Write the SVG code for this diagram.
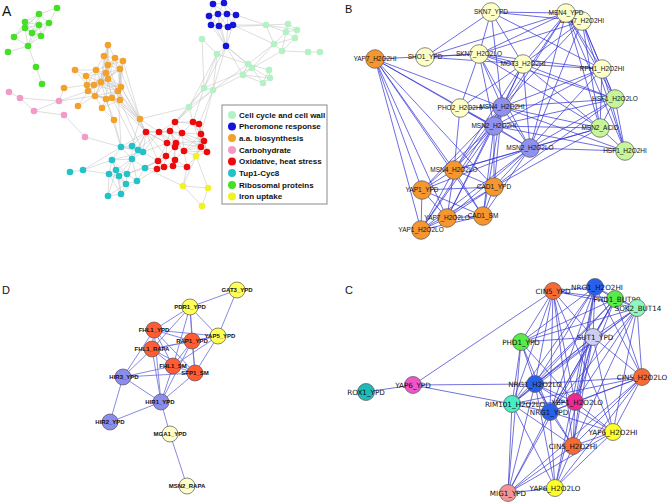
<svg xmlns="http://www.w3.org/2000/svg" width="669" height="503" viewBox="0 0 669 503">
<style>
.bg{fill:#fff}
.pl{font-family:"Liberation Sans",Arial,sans-serif;fill:#111}
.ea{stroke:#bdbdbd;stroke-width:0.5;fill:none}
.eb{stroke:#3434d6;stroke-width:0.8;fill:none;stroke-opacity:0.9}
.ec{stroke:#3a3ad0;stroke-width:0.8;fill:none;stroke-opacity:0.9}
.ed{stroke:#6a6ae0;stroke-width:0.8;fill:none}
.na circle{stroke:none}
.cg{fill:#b2f2c4}.cb{fill:#1414dc}.co{fill:#f2a12a}.cp{fill:#f39ac8}.cr{fill:#ee0a0a}.ct{fill:#22c2c8}.cgr{fill:#44e024}.cy{fill:#f2f222}
.lg{font-family:"Liberation Sans",Arial,sans-serif;font-weight:bold;font-size:8px;fill:#111}
.nb circle,.nc circle,.nd circle{stroke:#555;stroke-width:0.7}
.nb text{font-family:"Liberation Sans",Arial,sans-serif;font-size:6.5px;fill:#111;text-anchor:middle}
.nc text{font-family:"DejaVu Sans",sans-serif;font-size:7.2px;fill:#111;text-anchor:middle}
.nd text{font-family:"Liberation Sans",Arial,sans-serif;font-weight:bold;font-size:6px;fill:#111;text-anchor:middle}
.bo{fill:#f5962e}.bp{fill:#ffffc8}.bl{fill:#9090ee}.bg2{fill:#c6f59a}
.dy{fill:#ffff55}.dr{fill:#ff5c33}.dl{fill:#8c8cee}.dp{fill:#ffffcc}
.c5{fill:#f86a34}.cn{fill:#2860ee}.cph{fill:#58ec48}.cso{fill:#8cf8c0}.csu{fill:#cccef8}.cri{fill:#48eec4}.cx{fill:#ee2a8e}.cy6{fill:#ffff2a}.cmi{fill:#f59494}.cy6p{fill:#ee55c8}.crx{fill:#20baba}
</style>
<rect class="bg" x="0" y="0" width="669" height="503"/>
<text class="pl" x="2" y="16" font-size="14">A</text>
<text class="pl" x="345" y="13" font-size="11">B</text>
<text class="pl" x="2" y="294" font-size="11">D</text>
<text class="pl" x="345" y="294" font-size="11">C</text>

<g id="connectors">
<path class="ea" d="M57 8L39 14M57 8L49 23M39 14L25 22M39 14L39 25M39 14L49 23M39 14L25 28M39 14L32 33M25 22L39 25M25 22L25 28M25 22L32 33M25 22L41 36M39 25L49 23M39 25L25 28M39 25L32 33M39 25L41 36M39 25L28 46M49 23L41 36M49 23L32 33M25 28L32 33M25 28L14 37M25 28L28 46M25 28L41 36M32 33L41 36M32 33L28 46M41 36L28 46M14 37L28 46M14 37L25 22M14 37L39 14M28 46L8 52M28 46L36 67M36 67L42 84M49 23L28 46"/>
<path class="ea" d="M108 45L104 56M108 45L115 58M108 45L108 65M108 45L106 73M108 45L101 82M108 45L108 79M104 56L115 58M104 56L108 65M104 56L96 70M104 56L106 73M104 56L120 69M104 56L101 82M115 58L123 61M115 58L108 65M115 58L120 69M115 58L106 73M115 58L121 87M115 58L108 79M123 61L120 69M123 61L108 65M123 61L121 87M123 61L118 91M123 61L108 79M108 65L120 69M108 65L96 70M108 65L106 73M108 65L108 79M108 65L101 82M108 65L118 91M108 65L94 85M120 69L106 73M120 69L108 79M120 69L121 87M120 69L118 91M120 69L101 82M120 69L120 100M96 70L86 76M96 70L106 73M96 70L87 85M96 70L94 85M96 70L101 82M96 70L108 79M75 70L86 76M75 70L87 85M75 70L96 70M86 76L87 85M86 76L94 85M86 76L101 82M86 76L106 73M86 76L88 91M106 73L108 79M106 73L101 82M106 73L94 85M106 73L121 87M106 73L118 91M106 73L95 96M106 73L112 98M108 79L101 82M108 79L121 87M108 79L118 91M108 79L95 96M108 79L106 99M108 79L112 98M108 79L120 100M108 79L87 85M108 79L88 91M87 85L94 85M87 85L88 91M87 85L101 82M87 85L64 88M87 85L95 96M94 85L101 82M94 85L88 91M94 85L95 96M94 85L121 87M94 85L118 91M101 82L121 87M101 82L118 91M101 82L95 96M101 82L106 99M101 82L112 98M101 82L88 91M121 87L118 91M121 87L112 98M121 87L120 100M121 87L106 99M88 91L95 96M88 91L78 106M88 91L106 99M118 91L95 96M118 91L106 99M118 91L112 98M118 91L120 100M95 96L106 99M95 96L112 98M95 96L102 108M95 96L120 100M106 99L112 98M106 99L102 108M106 99L120 100M112 98L120 100M112 98L102 108M120 100L102 108M78 106L95 96M102 108L114 120M106 99L114 120M120 100L140 119M118 91L140 119M112 98L140 119M121 87L140 119M121 87L146 132M118 91L146 132M120 100L146 132M112 98L146 132M140 119L146 132M140 119L132 146M140 119L159 132M118 91L121 147M106 99L121 147M114 120L121 147M120 100L143 152M112 98L138 150M120 69L140 119M123 61L140 119M59 101L64 88M59 101L88 91M59 101L95 96"/>
<path class="ea" d="M9 92L20 98M20 98L59 101M20 98L34 111M34 111L59 101M34 111L64 115M64 115L85 137M85 137L121 147"/>
<path class="ea" d="M202 39L217 54M202 39L204 88M217 54L226 46M217 54L204 88M217 54L213 90M217 54L248 64M217 54L189 107M266 25L288 24M266 25L286 32M266 25L274 44M266 25L297 30M288 24L286 32M288 24L297 30M286 32L297 30M286 32L295 38M297 30L295 38M274 44L282 51M274 44L286 32M274 44L295 38M282 51L295 38M282 51L286 32M282 51L308 52M308 52L320 52M274 44L248 64M282 51L252 68M274 44L252 68M248 64L252 68M248 64L269 70M248 64L243 75M252 68L270 78M252 68L263 83M269 70L270 78M243 75L270 78M243 75L263 83M270 78L263 83M269 70L263 83M252 68L243 75M243 75L213 90M248 64L213 90M252 68L204 88M204 88L213 90M204 88L189 107M213 90L189 107M236 15L266 25M233 25L266 25M228 27L266 25M233 25L274 44M226 46L248 64M226 46L252 68M226 46L243 75M226 46L213 90M226 46L204 88"/>
<path class="ea" d="M213 4L224 3M213 4L209 16M213 4L218 14M213 4L227 14M224 3L218 14M224 3L227 14M224 3L236 15M209 16L218 14M209 16L211 25M209 16L219 26M209 16L227 14M218 14L227 14M218 14L211 25M218 14L219 26M218 14L228 27M218 14L236 15M227 14L236 15M227 14L219 26M227 14L228 27M227 14L233 25M236 15L233 25M236 15L228 27M211 25L219 26M211 25L228 27M219 26L228 27M219 26L233 25M228 27L233 25M211 25L226 46M219 26L226 46M228 27L226 46M233 25L226 46M209 16L226 46M218 14L226 46"/>
<path class="ea" d="M189 107L175 122M189 107L193 122M213 90L199 124M213 90L175 122M213 90L201 134M204 88L193 122M189 107L170 131M204 88L175 122M189 107L140 119"/>
<path class="ea" d="M175 122L193 122M175 122L199 124M175 122L170 131M175 122L182 133M175 122L159 132M193 122L199 124M193 122L182 133M193 122L201 134M193 122L204 141M193 122L201 147M199 124L201 134M199 124L204 141M199 124L201 147M199 124L207 152M146 132L159 132M146 132L170 131M146 132L167 143M146 132L175 147M146 132L166 156M146 132L158 161M159 132L170 131M159 132L182 133M159 132L167 143M159 132L176 143M159 132L175 147M170 131L182 133M170 131L167 143M170 131L176 143M170 131L175 147M170 131L184 151M182 133L176 143M182 133L184 151M182 133L201 134M182 133L201 147M201 134L204 141M201 134L201 147M201 134L184 151M204 141L201 147M204 141L207 152M204 141L184 151M167 143L176 143M167 143L175 147M167 143L166 156M167 143L158 161M176 143L175 147M176 143L184 151M176 143L201 147M175 147L184 151M175 147L166 156M175 147L175 160M184 151L201 147M184 151L207 152M184 151L175 160M201 147L207 152M166 156L158 161M166 156L175 160M166 156L157 169M166 156L164 167M158 161L157 169M158 161L164 167M175 160L164 167M175 160L173 166M175 160L187 167M157 169L164 167M164 167L173 166M173 166L187 167M184 151L187 167M175 147L173 166M176 143L204 141M182 133L204 141M170 131L201 147"/>
<path class="ea" d="M196 156L204 141M196 156L201 147M196 156L207 152M196 156L184 151M196 156L201 134M196 156L187 167M196 156L208 188M196 156L183 186M183 186L208 188M208 188L202 206M183 186L202 206M145 168L183 186M187 167L183 186"/>
<path class="ea" d="M121 147L132 146M121 147L138 150M121 147L143 152M121 147L112 160M121 147L132 159M132 146L138 150M132 146L143 152M132 146L132 159M138 150L143 152M138 150L132 159M143 152L132 159M112 160L132 159M112 160L116 170M112 160L109 174M112 160L119 176M112 160L127 174M132 159L116 170M132 159L119 176M132 159L127 174M132 159L145 168M132 159L137 181M116 170L109 174M116 170L119 176M116 170L127 174M116 170L108 196M116 170L121 194M116 170L126 184M109 174L119 176M109 174L108 196M109 174L121 194M109 174L126 184M119 176L127 174M119 176L126 184M119 176L121 194M127 174L126 184M127 174L137 181M127 174L145 168M145 168L137 181M126 184L137 181M126 184L121 194M108 196L121 194M70 172L83 170M83 170L109 174M83 170L112 160M83 170L121 147M108 196L126 184M121 194L137 181M112 160L143 152"/>
<path class="ea" d="M143 152L146 132M138 150L146 132M132 146L146 132M143 152L159 132M145 168L158 161M145 168L157 169M137 181L157 169M132 159L146 132M145 168L166 156M143 152L167 143M138 150L159 132M127 174L158 161M121 147L146 132M143 152L158 161"/>

<path class="eb" d="M375 59L502 107M375 59L494 126M375 59L530 148M375 59L454 170M375 59L422 190M375 59L447 218M375 59L483 216M375 59L421 230M375 59L494 187M375 59L479 54M425 57L479 54M425 57L491 12M425 57L566 13M425 57L523 64M491 12L479 54M491 12L566 13M491 12L582 21M491 12L523 64M491 12L602 69M491 12L502 107M479 54L502 107M479 54L494 126M479 54L523 64M479 54L566 13M479 54L582 21M479 54L602 69M479 54L615 99M479 54L530 148M479 54L460 108M479 54L600 128M566 13L582 21M566 13L523 64M566 13L602 69M566 13L615 99M566 13L494 126M566 13L502 107M566 13L600 128M566 13L625 151M566 13L530 148M582 21L602 69M582 21L615 99M582 21L600 128M582 21L530 148M582 21L502 107M582 21L625 151M582 21L523 64M523 64L602 69M523 64L502 107M523 64L494 126M523 64L530 148M523 64L615 99M523 64L600 128M523 64L460 108M523 64L454 170M602 69L615 99M602 69L600 128M602 69L625 151M602 69L502 107M602 69L494 126M602 69L530 148M615 99L600 128M615 99L625 151M615 99L530 148M615 99L494 126M615 99L502 107M615 99L494 187M600 128L625 151M600 128L530 148M600 128L494 126M600 128L502 107M600 128L494 187M600 128L454 170M625 151L530 148M625 151L494 126M625 151L502 107M460 108L502 107M460 108L494 126M460 108L454 170M502 107L494 126M502 107L530 148M502 107L454 170M502 107L494 187M502 107L422 190M502 107L447 218M502 107L483 216M502 107L421 230M494 126L530 148M494 126L454 170M494 126L494 187M494 126L422 190M494 126L447 218M494 126L483 216M494 126L421 230M530 148L454 170M530 148L494 187M530 148L422 190M530 148L447 218M530 148L483 216M530 148L421 230M454 170L494 187M454 170L422 190M454 170L447 218M454 170L483 216M454 170L421 230M494 187L422 190M494 187L447 218M494 187L483 216M494 187L421 230M422 190L447 218M422 190L483 216M422 190L421 230M447 218L483 216M447 218L421 230M483 216L421 230"/>

<path class="ec" d="M553 291L595 287M553 291L615 299M553 291L637 308M553 291L521 342M553 291L593 337M553 291L535 384M553 291L512 404M553 291L550 412M553 291L573 446M553 291L575 402M553 291L613 432M553 291L413 385M595 287L615 299M595 287L637 308M595 287L593 337M595 287L521 342M595 287L535 384M595 287L512 404M595 287L550 412M595 287L575 402M595 287L642 377M595 287L573 446M595 287L555 488M615 299L637 308M615 299L593 337M615 299L521 342M615 299L535 384M615 299L550 412M615 299L512 404M615 299L575 402M615 299L642 377M615 299L508 493M637 308L593 337M637 308L521 342M637 308L535 384M637 308L550 412M637 308L512 404M637 308L575 402M637 308L642 377M637 308L573 446M637 308L613 432M521 342L593 337M521 342L535 384M521 342L512 404M521 342L550 412M521 342L508 493M521 342L575 402M593 337L535 384M593 337L512 404M593 337L550 412M593 337L575 402M593 337L642 377M593 337L613 432M593 337L573 446M593 337L555 488M642 377L535 384M642 377L550 412M642 377L575 402M642 377L613 432M642 377L573 446M642 377L555 488M642 377L508 493M642 377L512 404M535 384L512 404M535 384L550 412M535 384L575 402M535 384L573 446M535 384L508 493M535 384L555 488M535 384L613 432M535 384L413 385M512 404L550 412M512 404L575 402M512 404L573 446M512 404L508 493M512 404L555 488M512 404L413 385M575 402L550 412M575 402L573 446M575 402L613 432M550 412L573 446M550 412L508 493M550 412L555 488M550 412L613 432M613 432L573 446M613 432L555 488M613 432L508 493M573 446L508 493M573 446L555 488M508 493L555 488M413 385L366 392"/>

<path class="ed" d="M237 290L190 307M237 290L218 336M190 307L154 330M190 307L192 341M190 307L218 336M190 307L152 349M190 307L173 366M190 307L195 373M154 330L192 341M154 330L218 336M154 330L152 349M154 330L173 366M154 330L195 373M154 330L123 377M154 330L161 402M192 341L218 336M192 341L152 349M192 341L173 366M192 341L195 373M192 341L161 402M218 336L173 366M218 336L195 373M218 336L152 349M152 349L173 366M152 349L195 373M152 349L123 377M152 349L161 402M173 366L195 373M173 366L123 377M173 366L161 402M195 373L123 377M195 373L161 402M123 377L161 402M123 377L110 422M110 422L161 402M161 402L170 434M170 434L187 486"/>
</g>

<g id="nodes-A" class="na">
<circle id="g1" class="cgr" cx="57" cy="8" r="3.3"/><circle id="g2" class="cgr" cx="39" cy="14" r="3.3"/><circle id="g3" class="cgr" cx="25" cy="22" r="3.3"/><circle id="g4" class="cgr" cx="39" cy="25" r="3.3"/><circle id="g5" class="cgr" cx="49" cy="23" r="3.3"/><circle id="g6" class="cgr" cx="25" cy="28" r="3.3"/><circle id="g7" class="cgr" cx="32" cy="33" r="3.3"/><circle id="g8" class="cgr" cx="41" cy="36" r="3.3"/><circle id="g9" class="cgr" cx="14" cy="37" r="3.3"/><circle id="g10" class="cgr" cx="28" cy="46" r="3.3"/><circle id="g11" class="cgr" cx="8" cy="52" r="3.3"/><circle id="g12" class="cgr" cx="36" cy="67" r="3.3"/><circle id="g13" class="cgr" cx="42" cy="84" r="3.3"/>
<circle id="o1" class="co" cx="108" cy="45" r="3.3"/><circle id="o2" class="co" cx="104" cy="56" r="3.3"/><circle id="o3" class="co" cx="115" cy="58" r="3.3"/><circle id="o4" class="co" cx="123" cy="61" r="3.3"/><circle id="o5" class="co" cx="108" cy="65" r="3.3"/><circle id="o6" class="co" cx="120" cy="69" r="3.3"/><circle id="o7" class="co" cx="96" cy="70" r="3.3"/><circle id="o8" class="co" cx="75" cy="70" r="3.3"/><circle id="o9" class="co" cx="86" cy="76" r="3.3"/><circle id="o10" class="co" cx="106" cy="73" r="3.3"/><circle id="o11" class="co" cx="108" cy="79" r="3.3"/><circle id="o12" class="co" cx="87" cy="85" r="3.3"/><circle id="o13" class="co" cx="94" cy="85" r="3.3"/><circle id="o14" class="co" cx="101" cy="82" r="3.3"/><circle id="o15" class="co" cx="121" cy="87" r="3.3"/><circle id="o16" class="co" cx="88" cy="91" r="3.3"/><circle id="o17" class="co" cx="118" cy="91" r="3.3"/><circle id="o18" class="co" cx="64" cy="88" r="3.3"/><circle id="o19" class="co" cx="95" cy="96" r="3.3"/><circle id="o20" class="co" cx="106" cy="99" r="3.3"/><circle id="o21" class="co" cx="112" cy="98" r="3.3"/><circle id="o22" class="co" cx="120" cy="100" r="3.3"/><circle id="o23" class="co" cx="78" cy="106" r="3.3"/><circle id="o24" class="co" cx="102" cy="108" r="3.3"/><circle id="o25" class="co" cx="114" cy="120" r="3.3"/><circle id="o26" class="co" cx="140" cy="119" r="3.3"/>
<circle id="p1" class="cp" cx="9" cy="92" r="3.3"/><circle id="p2" class="cp" cx="20" cy="98" r="3.3"/><circle id="p3" class="cp" cx="59" cy="101" r="3.3"/><circle id="p4" class="cp" cx="34" cy="111" r="3.3"/><circle id="p5" class="cp" cx="64" cy="115" r="3.3"/><circle id="p6" class="cp" cx="85" cy="137" r="3.3"/>
<circle id="c1" class="cg" cx="202" cy="39" r="3.3"/><circle id="c2" class="cg" cx="217" cy="54" r="3.3"/><circle id="c3" class="cg" cx="266" cy="25" r="3.3"/><circle id="c4" class="cg" cx="288" cy="24" r="3.3"/><circle id="c5" class="cg" cx="286" cy="32" r="3.3"/><circle id="c6" class="cg" cx="297" cy="30" r="3.3"/><circle id="c7" class="cg" cx="295" cy="38" r="3.3"/><circle id="c8" class="cg" cx="274" cy="44" r="3.3"/><circle id="c9" class="cg" cx="282" cy="51" r="3.3"/><circle id="c10" class="cg" cx="308" cy="52" r="3.3"/><circle id="c11" class="cg" cx="320" cy="52" r="3.3"/><circle id="c12" class="cg" cx="248" cy="64" r="3.3"/><circle id="c13" class="cg" cx="252" cy="68" r="3.3"/><circle id="c14" class="cg" cx="269" cy="70" r="3.3"/><circle id="c15" class="cg" cx="243" cy="75" r="3.3"/><circle id="c16" class="cg" cx="270" cy="78" r="3.3"/><circle id="c17" class="cg" cx="263" cy="83" r="3.3"/><circle id="c18" class="cg" cx="204" cy="88" r="3.3"/><circle id="c19" class="cg" cx="213" cy="90" r="3.3"/><circle id="c20" class="cg" cx="189" cy="107" r="3.3"/>
<circle id="b1" class="cb" cx="213" cy="4" r="3.3"/><circle id="b2" class="cb" cx="224" cy="3" r="3.3"/><circle id="b3" class="cb" cx="209" cy="16" r="3.3"/><circle id="b4" class="cb" cx="218" cy="14" r="3.3"/><circle id="b5" class="cb" cx="227" cy="14" r="3.3"/><circle id="b6" class="cb" cx="236" cy="15" r="3.3"/><circle id="b7" class="cb" cx="211" cy="25" r="3.3"/><circle id="b8" class="cb" cx="219" cy="26" r="3.3"/><circle id="b9" class="cb" cx="228" cy="27" r="3.3"/><circle id="b10" class="cb" cx="233" cy="25" r="3.3"/><circle id="b11" class="cb" cx="226" cy="46" r="3.3"/>
<circle id="r1" class="cr" cx="175" cy="122" r="3.3"/><circle id="r2" class="cr" cx="193" cy="122" r="3.3"/><circle id="r3" class="cr" cx="199" cy="124" r="3.3"/><circle id="r4" class="cr" cx="146" cy="132" r="3.3"/><circle id="r5" class="cr" cx="159" cy="132" r="3.3"/><circle id="r6" class="cr" cx="170" cy="131" r="3.3"/><circle id="r7" class="cr" cx="182" cy="133" r="3.3"/><circle id="r8" class="cr" cx="201" cy="134" r="3.3"/><circle id="r9" class="cr" cx="204" cy="141" r="3.3"/><circle id="r10" class="cr" cx="167" cy="143" r="3.3"/><circle id="r11" class="cr" cx="176" cy="143" r="3.3"/><circle id="r12" class="cr" cx="175" cy="147" r="3.3"/><circle id="r13" class="cr" cx="184" cy="151" r="3.3"/><circle id="r14" class="cr" cx="201" cy="147" r="3.3"/><circle id="r15" class="cr" cx="207" cy="152" r="3.3"/><circle id="r16" class="cr" cx="166" cy="156" r="3.3"/><circle id="r17" class="cr" cx="158" cy="161" r="3.3"/><circle id="r18" class="cr" cx="175" cy="160" r="3.3"/><circle id="r19" class="cr" cx="157" cy="169" r="3.3"/><circle id="r20" class="cr" cx="164" cy="167" r="3.3"/><circle id="r21" class="cr" cx="173" cy="166" r="3.3"/><circle id="r22" class="cr" cx="187" cy="167" r="3.3"/>
<circle id="y1" class="cy" cx="196" cy="156" r="3.3"/><circle id="y2" class="cy" cx="183" cy="186" r="3.3"/><circle id="y3" class="cy" cx="208" cy="188" r="3.3"/><circle id="y4" class="cy" cx="202" cy="206" r="3.3"/>
<circle id="t1" class="ct" cx="121" cy="147" r="3.3"/><circle id="t2" class="ct" cx="132" cy="146" r="3.3"/><circle id="t3" class="ct" cx="138" cy="150" r="3.3"/><circle id="t4" class="ct" cx="143" cy="152" r="3.3"/><circle id="t5" class="ct" cx="112" cy="160" r="3.3"/><circle id="t6" class="ct" cx="132" cy="159" r="3.3"/><circle id="t7" class="ct" cx="116" cy="170" r="3.3"/><circle id="t8" class="ct" cx="70" cy="172" r="3.3"/><circle id="t9" class="ct" cx="83" cy="170" r="3.3"/><circle id="t10" class="ct" cx="109" cy="174" r="3.3"/><circle id="t11" class="ct" cx="119" cy="176" r="3.3"/><circle id="t12" class="ct" cx="127" cy="174" r="3.3"/><circle id="t13" class="ct" cx="145" cy="168" r="3.3"/><circle id="t14" class="ct" cx="126" cy="184" r="3.3"/><circle id="t15" class="ct" cx="137" cy="181" r="3.3"/><circle id="t16" class="ct" cx="108" cy="196" r="3.3"/><circle id="t17" class="ct" cx="121" cy="194" r="3.3"/>
</g>

<g id="legend">
<rect x="222" y="105" width="105" height="99" fill="#fff" stroke="#8a8a8a" stroke-width="1"/>
<circle class="cg" cx="232" cy="115" r="4"/><text class="lg" x="239" y="117.8">Cell cycle and cell wall</text>
<circle class="cb" cx="232" cy="126.5" r="4"/><text class="lg" x="239" y="129.3">Pheromone response</text>
<circle class="co" cx="232" cy="138" r="4"/><text class="lg" x="239" y="140.8">a.a. biosynthesis</text>
<circle class="cp" cx="232" cy="150" r="4"/><text class="lg" x="239" y="152.8">Carbohydrate</text>
<circle class="cr" cx="232" cy="161.5" r="4"/><text class="lg" x="239" y="164.3">Oxidative, heat stress</text>
<circle class="ct" cx="232" cy="173" r="4"/><text class="lg" x="239" y="175.8">Tup1-Cyc8</text>
<circle class="cgr" cx="232" cy="185" r="4"/><text class="lg" x="239" y="187.8">Ribosomal proteins</text>
<circle class="cy" cx="232" cy="196.5" r="4"/><text class="lg" x="239" y="199.3">Iron uptake</text>
</g>

<g id="nodes-B" class="nb">
<g id="B-SKN7_YPD"><circle class="bp" cx="491" cy="12" r="9.3"/><text x="491" y="14.3">SKN7_YPD</text></g>
<g id="B-SKN7_H2O2HI"><circle class="bp" cx="582" cy="21" r="9.3"/><text x="582" y="23.3">SKN7_H2O2HI</text></g>
<g id="B-MSN4_YPD"><circle class="bp" cx="566" cy="13" r="9.3"/><text x="566" y="15.3">MSN4_YPD</text></g>
<g id="B-YAP7_H2O2HI"><circle class="bo" cx="375" cy="59" r="9.3"/><text x="375" y="61.3">YAP7_H2O2HI</text></g>
<g id="B-SHO1_YPD"><circle class="bp" cx="425" cy="57" r="9.3"/><text x="425" y="59.3">SHO1_YPD</text></g>
<g id="B-SKN7_H2O2LO"><circle class="bp" cx="479" cy="54" r="9.3"/><text x="479" y="56.3">SKN7_H2O2LO</text></g>
<g id="B-MOT3_H2O2HI"><circle class="bp" cx="523" cy="64" r="9.3"/><text x="523" y="66.3">MOT3_H2O2HI</text></g>
<g id="B-RPH1_H2O2HI"><circle class="bp" cx="602" cy="69" r="9.3"/><text x="602" y="71.3">RPH1_H2O2HI</text></g>
<g id="B-HSF1_H2O2LO"><circle class="bg2" cx="615" cy="99" r="9.3"/><text x="615" y="101.3">HSF1_H2O2LO</text></g>
<g id="B-PHO2_H2O2HI"><circle class="bp" cx="460" cy="108" r="9.3"/><text x="460" y="110.3">PHO2_H2O2HI</text></g>
<g id="B-MSN4_H2O2HI"><circle class="bl" cx="502" cy="107" r="9.3"/><text x="502" y="109.3">MSN4_H2O2HI</text></g>
<g id="B-MSN2_H2O2HI"><circle class="bl" cx="494" cy="126" r="9.3"/><text x="494" y="128.3">MSN2_H2O2HI</text></g>
<g id="B-MSN2_ACID"><circle class="bg2" cx="600" cy="128" r="9.3"/><text x="600" y="130.3">MSN2_ACID</text></g>
<g id="B-MSN2_H2O2LO"><circle class="bl" cx="530" cy="148" r="9.3"/><text x="530" y="150.3">MSN2_H2O2LO</text></g>
<g id="B-HSF1_H2O2HI"><circle class="bg2" cx="625" cy="151" r="9.3"/><text x="625" y="153.3">HSF1_H2O2HI</text></g>
<g id="B-MSN4_H2O2LO"><circle class="bo" cx="454" cy="170" r="9.3"/><text x="454" y="172.3">MSN4_H2O2LO</text></g>
<g id="B-CAD1_YPD"><circle class="bo" cx="494" cy="187" r="9.3"/><text x="494" y="189.3">CAD1_YPD</text></g>
<g id="B-YAP1_YPD"><circle class="bo" cx="422" cy="190" r="9.3"/><text x="422" y="192.3">YAP1_YPD</text></g>
<g id="B-CAD1_SM"><circle class="bo" cx="483" cy="216" r="9.3"/><text x="483" y="218.3">CAD1_SM</text></g>
<g id="B-YAP7_H2O2LO"><circle class="bo" cx="447" cy="218" r="9.3"/><text x="447" y="220.3">YAP7_H2O2LO</text></g>
<g id="B-YAP1_H2O2LO"><circle class="bo" cx="421" cy="230" r="9.3"/><text x="421" y="232.3">YAP1_H2O2LO</text></g>
</g>

<g id="nodes-D" class="nd">
<g id="D-GAT3_YPD"><circle class="dy" cx="237" cy="290" r="8"/><text x="237" y="292.1">GAT3_YPD</text></g>
<g id="D-PDR1_YPD"><circle class="dy" cx="190" cy="307" r="8"/><text x="190" y="309.1">PDR1_YPD</text></g>
<g id="D-FHL1_YPD"><circle class="dr" cx="154" cy="330" r="8"/><text x="154" y="332.1">FHL1_YPD</text></g>
<g id="D-YAP5_YPD"><circle class="dy" cx="218" cy="336" r="8"/><text x="220" y="338.1">YAP5_YPD</text></g>
<g id="D-RAP1_YPD"><circle class="dr" cx="192" cy="341" r="8"/><text x="192" y="343.1">RAP1_YPD</text></g>
<g id="D-FHL1_RAPA"><circle class="dr" cx="152" cy="349" r="8"/><text x="152" y="351.1">FHL1_RAPA</text></g>
<g id="D-FHL1_SM"><circle class="dr" cx="173" cy="366" r="8"/><text x="173" y="368.1">FHL1_SM</text></g>
<g id="D-SFP1_SM"><circle class="dr" cx="195" cy="373" r="8"/><text x="195" y="375.1">SFP1_SM</text></g>
<g id="D-HIR3_YPD"><circle class="dl" cx="123" cy="377" r="8"/><text x="124" y="379.1">HIR3_YPD</text></g>
<g id="D-HIR1_YPD"><circle class="dl" cx="161" cy="402" r="8"/><text x="160" y="404.1">HIR1_YPD</text></g>
<g id="D-HIR2_YPD"><circle class="dl" cx="110" cy="422" r="8"/><text x="110" y="424.1">HIR2_YPD</text></g>
<g id="D-MGA1_YPD"><circle class="dp" cx="170" cy="434" r="8"/><text x="170" y="436.1">MGA1_YPD</text></g>
<g id="D-MSN2_RAPA"><circle class="dp" cx="187" cy="486" r="8"/><text x="187" y="488.1">MSN2_RAPA</text></g>
</g>

<g id="nodes-C" class="nc">
<g id="C-CIN5_YPD"><circle class="c5" cx="553" cy="291" r="8.5"/><text x="553" y="293.6">CIN5_YPD</text></g>
<g id="C-NRG1_H2O2HI"><circle class="cn" cx="595" cy="287" r="8.5"/><text x="597" y="289.6">NRG1_H2O2HI</text></g>
<g id="C-PHD1_BUT90"><circle class="cph" cx="615" cy="299" r="8.5"/><text x="617" y="301.6">PHD1_BUT90</text></g>
<g id="C-SOK2_BUT14"><circle class="cso" cx="637" cy="308" r="8.5"/><text x="638" y="310.6">SOK2_BUT14</text></g>
<g id="C-PHD1_YPD"><circle class="cph" cx="521" cy="342" r="8.5"/><text x="521" y="344.6">PHD1_YPD</text></g>
<g id="C-SUT1_YPD"><circle class="csu" cx="593" cy="337" r="8.5"/><text x="595" y="339.6">SUT1_YPD</text></g>
<g id="C-CIN5_H2O2LO"><circle class="c5" cx="642" cy="377" r="8.5"/><text x="642" y="379.6">CIN5_H2O2LO</text></g>
<g id="C-NRG1_H2O2LO"><circle class="cn" cx="535" cy="384" r="8.5"/><text x="535" y="386.6">NRG1_H2O2LO</text></g>
<g id="C-RIM101_H2O2LO"><circle class="cri" cx="512" cy="404" r="8.5"/><text x="515" y="406.6">RIM101_H2O2LO</text></g>
<g id="C-XBP1_H2O2LO"><circle class="cx" cx="575" cy="402" r="8.5"/><text x="577" y="404.6">XBP1_H2O2LO</text></g>
<g id="C-NRG1_YPD"><circle class="cn" cx="550" cy="412" r="8.5"/><text x="549" y="414.6">NRG1_YPD</text></g>
<g id="C-YAP6_H2O2HI"><circle class="cy6" cx="613" cy="432" r="8.5"/><text x="613" y="434.6">YAP6_H2O2HI</text></g>
<g id="C-CIN5_H2O2HI"><circle class="c5" cx="573" cy="446" r="8.5"/><text x="573" y="448.6">CIN5_H2O2HI</text></g>
<g id="C-MIG1_YPD"><circle class="cmi" cx="508" cy="493" r="8.5"/><text x="508" y="495.6">MIG1_YPD</text></g>
<g id="C-YAP6_H2O2LO"><circle class="cy6" cx="555" cy="488" r="8.5"/><text x="555" y="490.6">YAP6_H2O2LO</text></g>
<g id="C-YAP6_YPD"><circle class="cy6p" cx="413" cy="385" r="8.5"/><text x="413" y="387.6">YAP6_YPD</text></g>
<g id="C-ROX1_YPD"><circle class="crx" cx="366" cy="392" r="8.5"/><text x="366" y="394.6">ROX1_YPD</text></g>
</g>
</svg>
